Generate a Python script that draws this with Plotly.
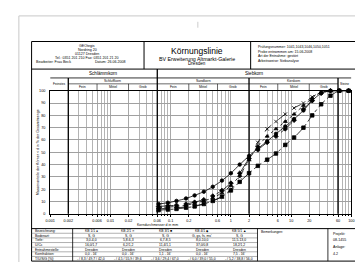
import numpy as np
import plotly.graph_objects as go

W, H = 363, 262

# ---------------- data ----------------
sieves = [0.063, 0.09, 0.125, 0.18, 0.25, 0.355, 0.5, 0.71, 1, 1.4, 2, 2.8, 4, 5.6, 8, 11.2, 16, 22.4, 31.5, 45, 63, 90]
s1 = [8, 9, 10.5, 12.5, 15, 18, 22, 27, 33, 40, 47, 53, 59, 65, 71, 77, 84, 92, 98, 100, 100, 100]
s2 = [4, 4.5, 5, 5.5, 6.5, 8, 10.5, 14, 20, 30, 44, 58, 69, 75, 81, 86, 90, 95, 99, 100, 100, 100]
s3 = [3, 3.5, 4, 5, 6, 8, 10.5, 14, 19, 26, 33, 39, 44, 49, 56, 62, 70, 80, 89, 96, 100, 100]
s4 = [6, 6.5, 7, 8, 9.5, 11.5, 14.5, 19, 25, 33, 45, 52, 58, 63, 69, 76, 85, 92, 98, 100, 100, 100]
s5 = [5, 5.5, 6, 7, 8.5, 10.5, 13, 17, 23, 31, 44, 55, 63, 69, 75, 81, 88, 94, 99, 100, 100, 100]
series_names = ["KB 1/1", "KB 2/1", "KB 3/1", "KB 4/1", "KB 5/1"]
series_values = [s1, s2, s3, s4, s5]

x_tick_vals = [0.001, 0.002, 0.006, 0.01, 0.02, 0.06, 0.1, 0.2, 0.6, 1, 2, 6, 10, 20, 60, 100]
x_tick_text = ["0.001", "0.002", "0.006", "0.01", "0.02", "0.06", "0.1", "0.2", "0.6", "1", "2", "6", "10", "20", "60", "100"]
y_tick_vals = [0, 10, 20, 30, 40, 50, 60, 70, 80, 90, 100]

group_labels = ["Schlämmkorn", "Siebkorn"]
group_bounds = [(0.001, 0.06), (0.06, 100)]
fraction_labels = ["Feinstes", "Schluffkorn", "Sandkorn", "Kieskorn", "Steine"]
fraction_bounds = [(0.001, 0.002), (0.002, 0.06), (0.06, 2), (2, 60), (60, 100)]
sub_labels = ["Fein", "Mittel", "Grob"]
sub_edges = [[0.002, 0.006, 0.02, 0.06], [0.06, 0.2, 0.6, 2], [2, 6, 20, 60]]
main_edges = [0.002, 2, 60]

title = "Körnungslinie"
subtitle = ["BV Erweiterung Altmarkt-Galerie", "Dresden"]
office = ["GEOtegis", "Nordring 20", "01127 Dresden", "Tel.: 0351 201 210 Fax: 0351 201 21 20"]
office_foot = ["Bearbeiter: Frau Beck", "Datum: 26.06.2008"]
info_lines = ["Prüfungsnummer: 1041,1043,1046,1050,1051", "Probe entnommen am: 15.06.2008",
              "Art der Entnahme: gestört", "Arbeitsweise: Siebanalyse"]

row_labels = ["Bezeichnung:", "Bodenart:", "Tiefe:", "U/Cc", "Entnahmestelle:", "Kornfraktion:", "T/U/S/G [%]:"]
col_bodenart = ["S, G", "S, G", "S, G", "G, gs, fs, ms'", "S, G"]
col_tiefe = ["3,0-4,0", "5,8-6,3", "6,7-8,5", "8,0-10,0", "11,5-13,0"]
col_ucc = ["16,0/1,7", "6,2/1,2", "11,4/1,1", "37,0/0,8", "18,2/1,2"]
col_ort = ["Dresden", "Dresden", "Dresden", "Dresden", "Dresden"]
col_frak = ["0,0 - 16'", "0,0 - 16'", "1,1 - 16'", "0,0 - 16'", "7,5 - 16'"]
col_tusg = ["- / 8,3 / 49,7 / 42,0", "- / 4,5 / 55,9 / 39,6", "- / 3,6 / 29,4 / 67,0",
            "- / 6,0 / 39,0 / 55,0", "- / 5,2 / 38,8 / 56,0"]
project = ["Projekt:", "08-1455", "Anlage:", "4.2"]
remarks = "Bemerkungen:"

symbols = ["circle", "x-thin-open", "square", "diamond", "triangle-up"]
symbol_chars = ["●", "✕", "■", "◆", "▲"]
dashes = ["solid", "dash", "dashdot", "longdash", "dot"]

# ---------------- helpers ----------------
FONT = "Liberation Sans, Arial, sans-serif"
shapes, annots = [], []


def X(p):
    return p / W


def Y(p):
    return 1 - p / H


def pline(x0, y0, x1, y1, w=0.8, c="black"):
    shapes.append(dict(type="line", xref="paper", yref="paper", x0=X(x0), y0=Y(y0),
                       x1=X(x1), y1=Y(y1), line=dict(color=c, width=w)))


def vline_data(xv, ytop, ybot, w=0.8, c="black"):
    shapes.append(dict(type="line", xref="x", yref="paper", x0=xv, x1=xv, y0=Y(ytop), y1=Y(ybot),
                       line=dict(color=c, width=w)))


def hline_data(xa, xb, yp, w=0.8, c="black"):
    shapes.append(dict(type="line", xref="x", yref="paper", x0=xa, x1=xb, y0=Y(yp), y1=Y(yp),
                       line=dict(color=c, width=w)))


def ptext(x, y, s, size=4, anchor="center", angle=0):
    annots.append(dict(xref="paper", yref="paper", x=X(x), y=Y(y), text=s, showarrow=False,
                       font=dict(size=size, family=FONT, color="black"), xanchor=anchor,
                       yanchor="middle", borderpad=0, textangle=angle))


def dtext(xa, xb, y, s, size=4):
    annots.append(dict(xref="x", yref="paper", x=(np.log10(xa) + np.log10(xb)) / 2, y=Y(y), text=s,
                       showarrow=False, font=dict(size=size, family=FONT, color="black"),
                       xanchor="center", yanchor="middle", borderpad=0))


# page frame
shapes.append(dict(type="rect", xref="paper", yref="paper", x0=X(6), y0=Y(259), x1=X(358), y1=Y(6),
                   line=dict(color="#c8c8c8", width=1)))
pline(189, 12, 189, 18, 0.8, "#c0c0c0")
# outer box
shapes.append(dict(type="rect", xref="paper", yref="paper", x0=X(19), y0=Y(255), x1=X(353), y1=Y(32),
                   line=dict(color="black", width=1)))

# header block
pline(19, 60, 353, 60, 1)
pline(134, 32, 134, 60, 1)
pline(243, 32, 243, 60, 1)
for i, s in enumerate(office):
    ptext(76, 36.5 + 4 * i, s, 3.6)
ptext(23, 53, office_foot[0], 3.6, "left")
ptext(117, 53, office_foot[1], 3.6, "right")
ptext(188.5, 42, title, 8.5)
ptext(188.5, 49.5, subtitle[0], 5.3)
ptext(188.5, 54.5, subtitle[1], 4.6)
for i, s in enumerate(info_lines):
    ptext(249, 38 + 4.6 * i, s, 3.5, "left")

# classification header rows (above plot)
hline_data(0.001, 100, 69, 0.8)
hline_data(0.002, 60, 75, 0.6)
vline_data(0.06, 60, 207, 1.3)
for e in main_edges:
    vline_data(e, 69, 207, 1.3)
for edges in sub_edges:
    for e in edges[1:-1]:
        vline_data(e, 75, 82, 0.6)
for (a, b), s in zip(group_bounds, group_labels):
    dtext(a, b, 64.5, s, 4.6)
for (a, b), s in zip(fraction_bounds, fraction_labels):
    if s in ("Feinstes", "Steine"):
        dtext(a, b, 75.5, s, 3.2)
    else:
        dtext(a, b, 72, s, 3.4)
for edges in sub_edges:
    for j, s in enumerate(sub_labels):
        dtext(edges[j], edges[j + 1], 78.5, s, 3.4)

# axis titles
ptext(25, 144, "Massenanteile der Körner < d in % der Gesamtmenge", 3.6, "center", -90)
ptext(148, 218, "Korndurchmesser d in mm", 3.5)

# table
t_top, t_bot = 222, 255
pline(19, t_top, 353, t_top, 1)
rh = (t_bot - t_top) / len(row_labels)
for i in range(1, len(row_labels)):
    pline(19, t_top + rh * i, 250, t_top + rh * i, 0.5, "#606060")
pline(61, t_top, 61, t_bot, 0.8)
pline(250, t_top, 250, t_bot, 0.8)
pline(322, t_top, 322, t_bot, 0.8)
for i, s in enumerate(row_labels):
    ptext(21, t_top + rh * (i + 0.5), s, 3.4, "left")
cols = [
    [f"{n} {c}" for n, c in zip(series_names, symbol_chars)],
    col_bodenart, col_tiefe, col_ucc, col_ort, col_frak, col_tusg,
]
cw = (250 - 61) / 5
for r, row in enumerate(cols):
    for j, s in enumerate(row):
        ptext(61 + cw * (j + 0.5), t_top + rh * (r + 0.5), s, 3.4)
ptext(253, t_top + 3, remarks, 3.4, "left")
for i, s in enumerate(project):
    ptext(326, t_top + 5 + 7 * i, s, 3.6, "left")

# ---------------- figure ----------------
fig = go.Figure()
for name, vals, sym, dash in zip(series_names, series_values, symbols, dashes):
    fig.add_trace(go.Scatter(
        x=sieves, y=vals, mode="lines+markers", name=name,
        line=dict(color="black", width=0.8, dash=dash, shape="spline", smoothing=0.6),
        marker=dict(symbol=sym, size=3.5, color="black", line=dict(color="black", width=0.8)),
        cliponaxis=False,
    ))

minor_vals = [k * 10.0 ** e for e in range(-3, 2) for k in range(2, 10)]
minor_vals = [v for v in minor_vals if v >= 0.0019 and not any(abs(v - t) / t < 1e-6 for t in x_tick_vals)]

fig.update_layout(
    width=W, height=H, autosize=False,
    margin=dict(l=0, r=0, t=0, b=0, pad=0),
    paper_bgcolor="white", plot_bgcolor="white",
    showlegend=False,
    font=dict(family=FONT, size=4, color="black"),
    shapes=shapes, annotations=annots,
    xaxis=dict(
        type="log", range=[-3, 2], domain=[X(38), X(346)],
        tickmode="array", tickvals=x_tick_vals, ticktext=x_tick_text,
        tickfont=dict(size=3.8), ticks="outside", ticklen=2, tickcolor="black", tickwidth=0.6,
        showgrid=True, gridcolor="#a8a8a8", gridwidth=0.6,
        minor=dict(tickmode="array", tickvals=minor_vals, showgrid=True, gridcolor="#b4b4b4",
                   gridwidth=0.5, ticks="outside", ticklen=1.5, tickcolor="black", tickwidth=0.5),
        showline=True, linecolor="black", linewidth=1, mirror=True, zeroline=False,
        ticklabelstandoff=1,
    ),
    yaxis=dict(
        range=[0, 100], domain=[Y(207), Y(82)],
        tickmode="array", tickvals=y_tick_vals, tickfont=dict(size=3.8),
        ticks="", showgrid=True, gridcolor="#a0a0a0", gridwidth=0.6,
        showline=True, linecolor="black", linewidth=1, mirror=True, zeroline=False,
        ticklabelstandoff=3,
    ),
)

fig.write_html("out.html")
